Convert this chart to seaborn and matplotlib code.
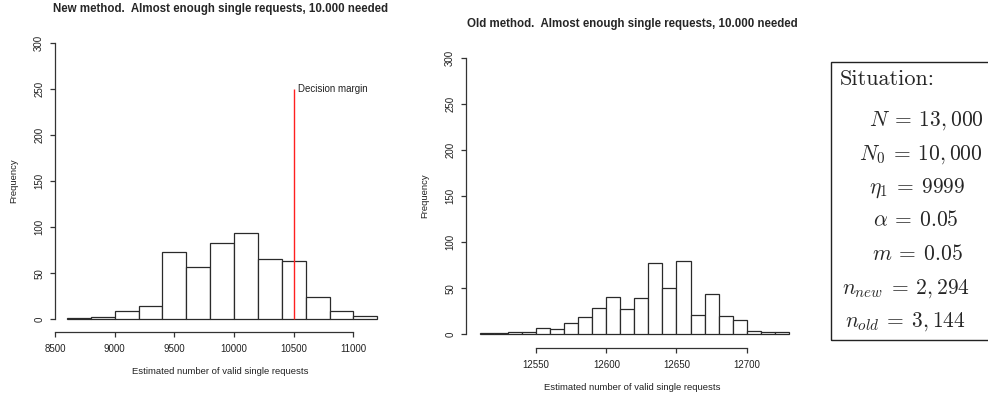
import matplotlib
matplotlib.use("Agg")
import matplotlib.pyplot as plt
from matplotlib.patches import Rectangle
import seaborn as sns

# ---- data -------------------------------------------------------------
new_edges = [8600, 8800, 9000, 9200, 9400, 9600, 9800, 10000, 10200,
             10400, 10600, 10800, 11000, 11200]
new_counts = [1, 2, 9, 14, 73, 57, 83, 94, 66, 63, 24, 9, 4]

old_edges = [12510, 12520, 12530, 12540, 12550, 12560, 12570, 12580, 12590,
             12600, 12610, 12620, 12630, 12640, 12650, 12660, 12670, 12680,
             12690, 12700, 12710, 12720, 12730]
old_counts = [1, 1, 2, 2, 7, 6, 12, 19, 29, 41, 27, 39, 77, 50, 80, 21, 44,
              20, 15, 4, 2, 2]

decision_margin = 10500
margin_height = 250

new_xticks = [8500, 9000, 9500, 10000, 10500, 11000]
old_xticks = [12550, 12600, 12650, 12700]
yticks = [0, 50, 100, 150, 200, 250, 300]

new_title = "New method.  Almost enough single requests, 10.000 needed"
old_title = "Old method.  Almost enough single requests, 10.000 needed"
xlabel = "Estimated number of valid single requests"
ylabel = "Frequency"

situation_title = "Situation:"
situation_lines = [r"$N\:=\:13,000$", r"$N_0\:=\:10,000$",
                   r"$\eta_1\:=\:9999$", r"$\alpha\:=\:0.05$",
                   r"$m\:=\:0.05$", r"$n_{new}\:=\:2,294$",
                   r"$n_{old}\:=\:3,144$"]

# ---- style ------------------------------------------------------------
sns.set_theme(style="white")
plt.rcParams["font.family"] = ["Liberation Sans", "DejaVu Sans"]
plt.rcParams["mathtext.fontset"] = "cm"

W, H = 988, 399
fig = plt.figure(figsize=(W / 100, H / 100), dpi=100)
fig.patch.set_facecolor("white")


def axes_px(left, top, right, bottom):
    return fig.add_axes([left / W, 1 - bottom / H, (right - left) / W,
                         (bottom - top) / H])


def hist_panel(ax, edges, counts, xlim, ylim, xticks):
    sns.histplot(x=edges[:-1], weights=counts, bins=edges, ax=ax,
                 color="white", edgecolor="#2a2a2a", linewidth=0.9,
                 alpha=1.0, stat="count")
    ax.set_xlim(*xlim)
    ax.set_ylim(*ylim)
    ax.set_xlabel("")
    ax.set_ylabel("")
    for side in ("top", "right"):
        ax.spines[side].set_visible(False)
    for side in ("left", "bottom"):
        ax.spines[side].set_color("#333333")
        ax.spines[side].set_linewidth(0.9)
    ax.spines["left"].set_bounds(0, 300)
    ax.spines["bottom"].set_bounds(xticks[0], xticks[-1])
    ax.set_xticks(xticks)
    ax.set_yticks(yticks)
    ax.tick_params(axis="both", which="major", direction="out", length=3.8,
                   width=0.9, color="#333333", labelsize=7,
                   labelcolor="#222222", left=True, bottom=True)
    ax.tick_params(axis="x", pad=5)
    ax.tick_params(axis="y", pad=4, labelrotation=90)
    for lbl in ax.get_yticklabels():
        lbl.set_va("center")
    ax.patch.set_alpha(0)


# left panel: new method
ax1 = axes_px(55, 40, 385, 331.7)
hist_panel(ax1, new_edges, new_counts, (8500, 11264), (-13.5, 303.6),
           new_xticks)
ax1.vlines(decision_margin, 0, margin_height, color="#ff2020", linewidth=1.0)
ax1.annotate("Decision margin", xy=(decision_margin, margin_height),
             xytext=(3, 0), textcoords="offset points", fontsize=7,
             ha="left", va="center", color="#222222")

# right panel: old method
ax2 = axes_px(466, 55, 799, 347.7)
hist_panel(ax2, old_edges, old_counts, (12500, 12737.3), (-14.6, 303.6),
           old_xticks)


# titles and axis labels
def ftext(x, y, s, **kw):
    fig.text(x / W, 1 - y / H, s, **kw)


ftext(220, 9, new_title, fontsize=8.3, fontweight="bold", ha="center",
      va="center")
ftext(632.5, 24, old_title, fontsize=8.3, fontweight="bold", ha="center",
      va="center")
ftext(220, 371, xlabel, fontsize=6.8, ha="center", va="center",
      color="#222222")
ftext(632.5, 387, xlabel, fontsize=6.8, ha="center", va="center",
      color="#222222")
ftext(14, 181, ylabel, fontsize=6.8, ha="center", va="center",
      rotation=90, color="#222222")
ftext(425, 196, ylabel, fontsize=6.8, ha="center", va="center",
      rotation=90, color="#222222")

# situation box
fig.add_artist(Rectangle((831 / W, 1 - 340 / H), 200 / W, 278 / H,
                         transform=fig.transFigure, fill=False,
                         edgecolor="#222222", linewidth=1.0))
ftext(840, 79, situation_title, fontsize=16, ha="left", va="center",
      family="cmr10")
line_x = [869, 859, 869, 873, 872, 842, 845]
line_y = [121, 155, 188, 221, 254, 289, 322]
for s, x, y in zip(situation_lines, line_x, line_y):
    ftext(x, y, s, fontsize=15.5, ha="left", va="center")

fig.savefig("out.png", dpi=100, facecolor="white")
